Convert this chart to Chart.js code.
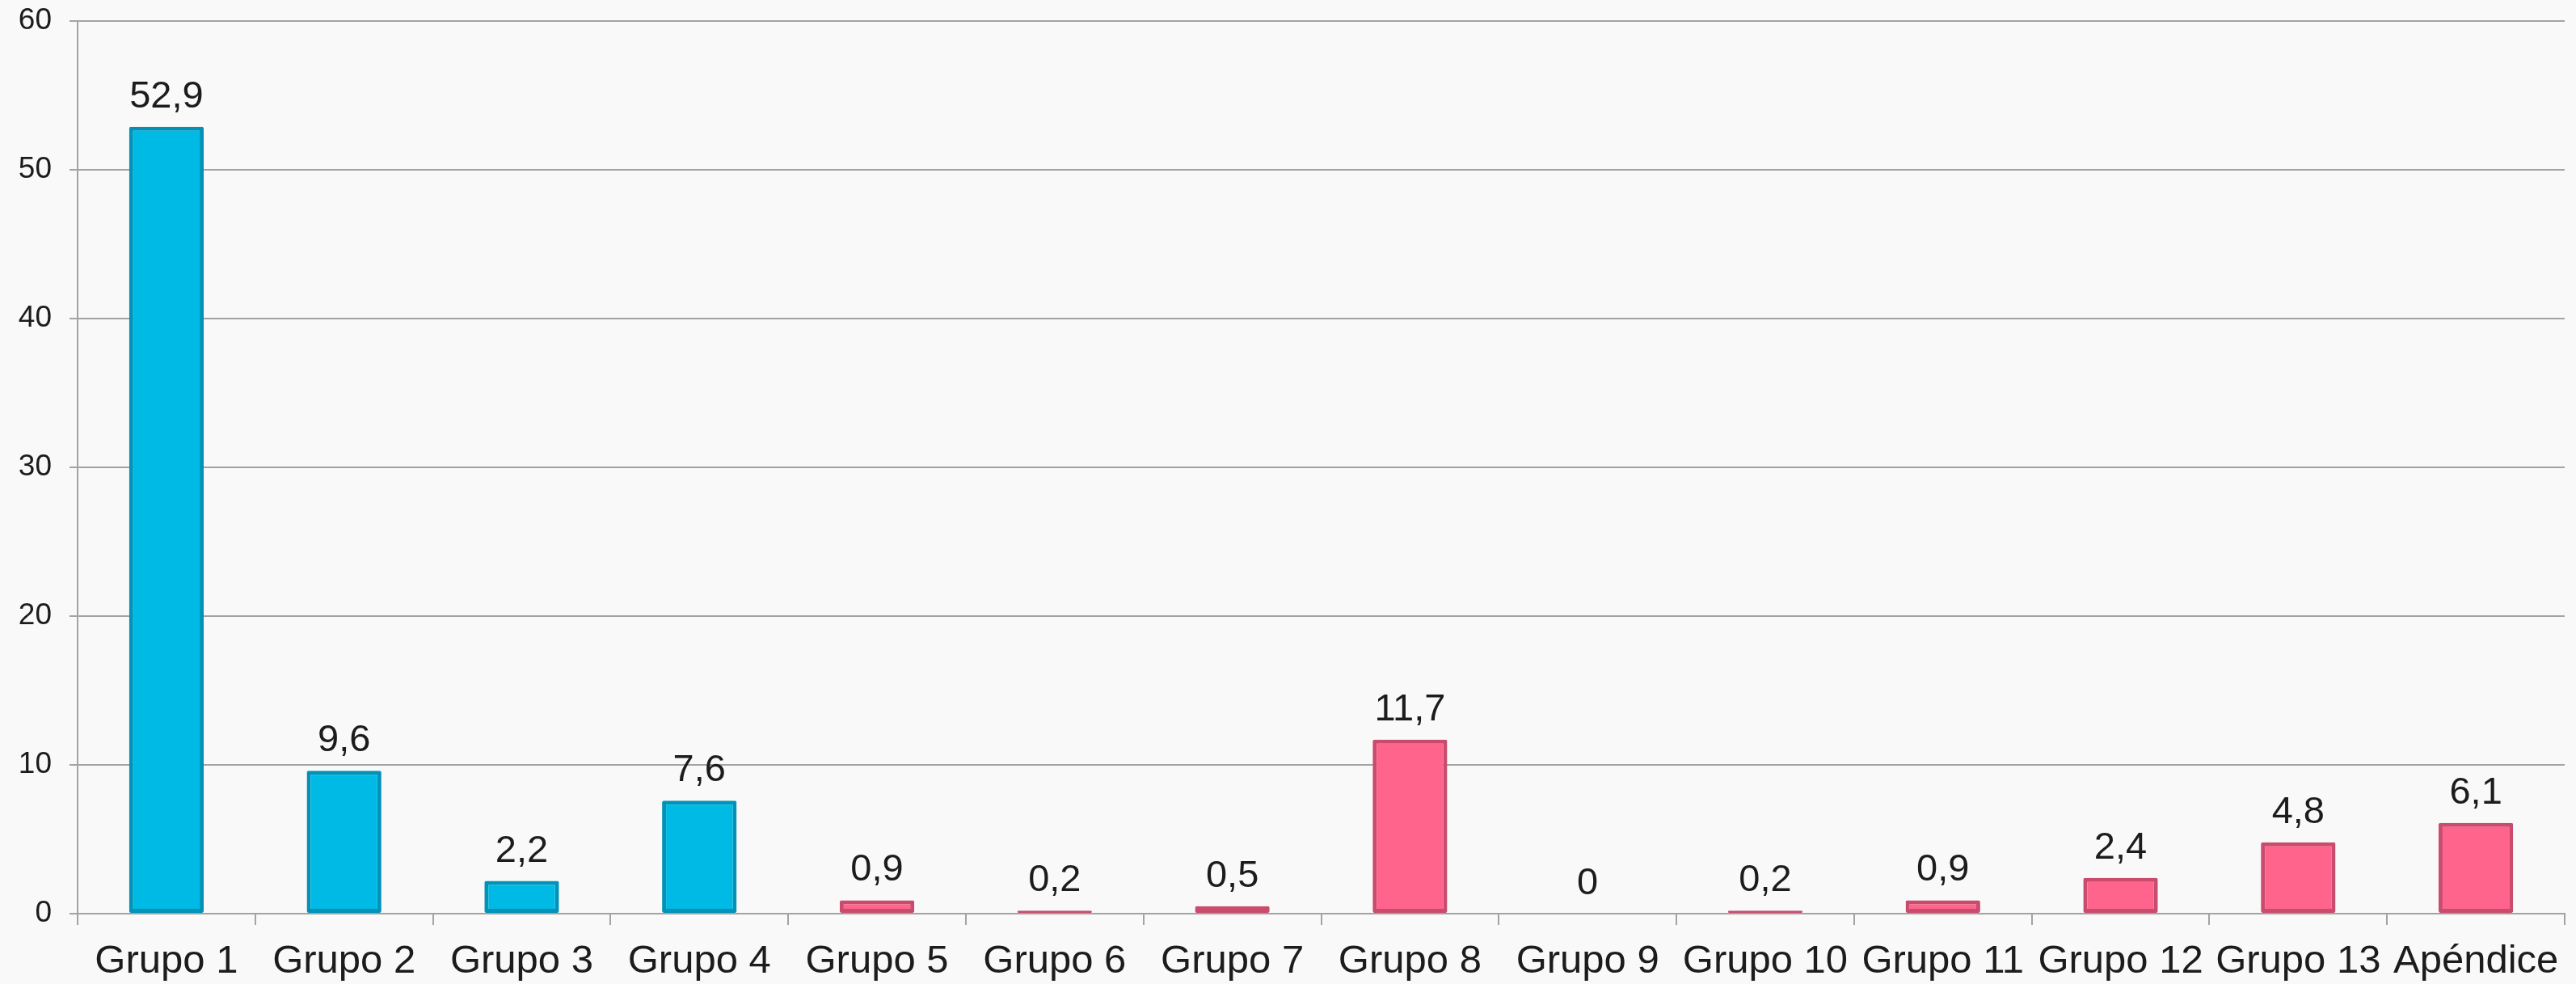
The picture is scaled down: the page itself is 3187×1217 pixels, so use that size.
<!DOCTYPE html>
<html>
<head>
<meta charset="utf-8">
<script src="https://cdn.jsdelivr.net/npm/chart.js@4.4.1/dist/chart.umd.min.js"></script>
<style>
  html, body { margin: 0; padding: 0; background: #f9f9f9; }
  canvas { display: block; }
</style>
</head>
<body>
<canvas id="c" width="3187" height="1217"></canvas>
<script>
const categories = ['Grupo 1','Grupo 2','Grupo 3','Grupo 4','Grupo 5','Grupo 6','Grupo 7','Grupo 8','Grupo 9','Grupo 10','Grupo 11','Grupo 12','Grupo 13','Apéndice'];
const values = [52.9, 9.6, 2.2, 7.6, 0.9, 0.2, 0.5, 11.7, 0, 0.2, 0.9, 2.4, 4.8, 6.1];
const yTicks = [0, 10, 20, 30, 40, 50, 60];

const FONT = "'Liberation Sans', Arial, sans-serif";
const TEXT = '#1c1c1c';
const GRID = '#a3a3a3';

const valueLabels = {
  id: 'valueLabels',
  afterDatasetsDraw(chart) {
    const ctx = chart.ctx;
    const meta = chart.getDatasetMeta(0);
    ctx.save();
    ctx.font = '47px ' + FONT;
    ctx.fillStyle = TEXT;
    ctx.textAlign = 'center';
    ctx.textBaseline = 'alphabetic';
    meta.data.forEach((bar, i) => {
      const v = chart.data.datasets[0].data[i];
      const txt = String(v).replace('.', ',');
      ctx.fillText(txt, bar.x, bar.y - 24);
    });
    ctx.restore();
  }
};

new Chart(document.getElementById('c'), {
  type: 'bar',
  data: {
    labels: categories,
    datasets: [{
      data: values,
      backgroundColor: c => c.dataIndex < 4 ? '#00bae6' : '#ff648c',
      borderColor: c => c.dataIndex < 4 ? '#0092b8' : '#c94c6e',
      borderWidth: 5,
      borderSkipped: false,
      borderRadius: 2,
      barPercentage: 0.42,
      categoryPercentage: 1.0
    }]
  },
  options: {
    responsive: false,
    animation: false,
    layout: { padding: { top: 26, right: 14, left: 0, bottom: 0 } },
    plugins: { legend: { display: false }, tooltip: { enabled: false } },
    scales: {
      x: {
        grid: { display: true, drawOnChartArea: false, drawTicks: true, tickLength: 14, color: GRID, lineWidth: 2, offset: true },
        border: { display: true, color: GRID, width: 2 },
        ticks: { font: { family: FONT, size: 49 }, color: TEXT, padding: 16, maxRotation: 0, autoSkip: false },
        afterFit: s => { s.height = 87; s.paddingLeft = 0; s.paddingRight = 0; }
      },
      y: {
        min: yTicks[0],
        max: yTicks[yTicks.length - 1],
        afterBuildTicks: s => { s.ticks = yTicks.map(v => ({ value: v })); },
        grid: { color: GRID, lineWidth: 2, tickLength: 10 },
        border: { display: true, color: GRID, width: 2 },
        ticks: { font: { family: FONT, size: 37 }, color: TEXT, padding: 22 },
        afterFit: s => { s.width = 96; s.paddingTop = 0; s.paddingBottom = 0; }
      }
    }
  },
  plugins: [valueLabels]
});
</script>
</body>
</html>
